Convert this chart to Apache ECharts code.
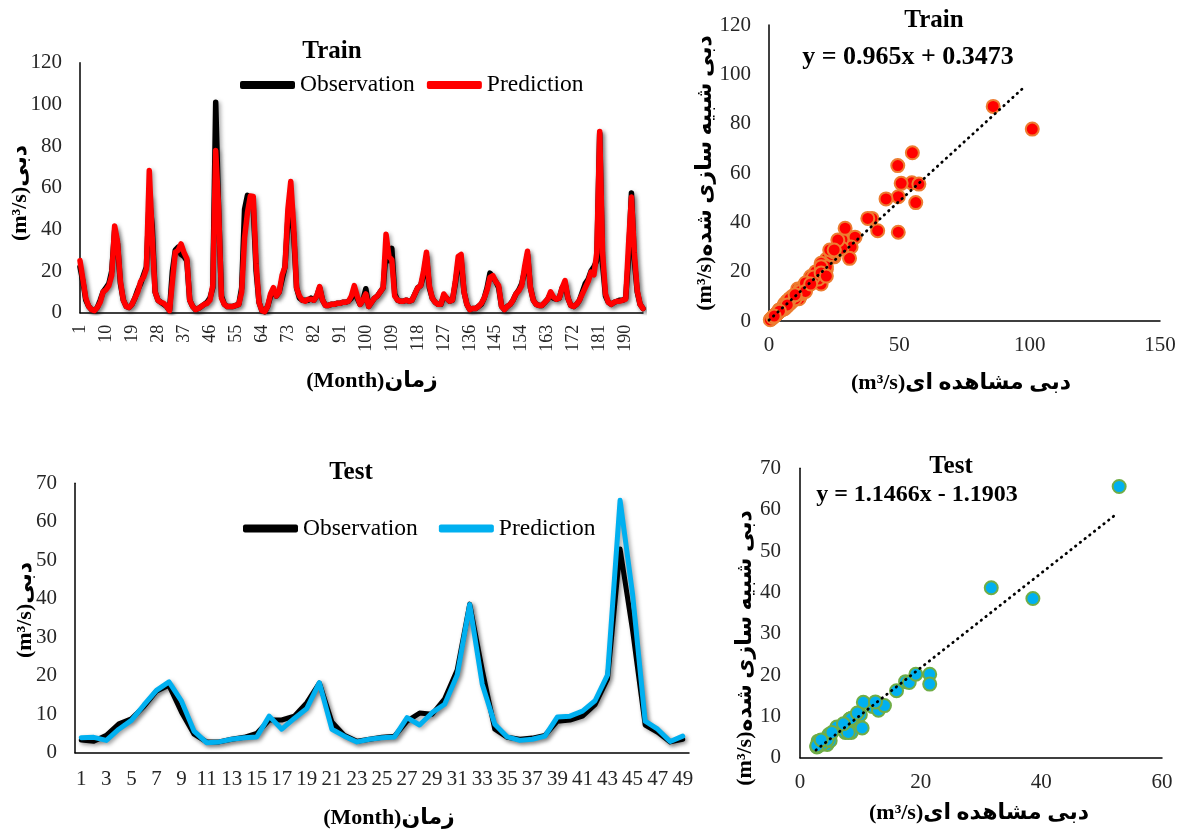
<!DOCTYPE html>
<html>
<head>
<meta charset="utf-8">
<script src="https://cdn.jsdelivr.net/npm/echarts@6/dist/echarts.min.js"></script>
<style>
html,body{margin:0;padding:0;background:#fff;}
#chart{width:1185px;height:830px;}
</style>
</head>
<body>
<div id="chart"></div>
<script>
// ---------- DATA ----------
const trainObs = [22,15,6,3,1.5,1,2.5,6,10,12,14,20,39.5,33,14,6,3,2.5,4,7,11,14,18,22,55,41.7,10,6,5,4,3,1,20,30,31.5,28,27,25,6,3,1.5,2,3,4,5,7,12,101,49.6,8,4,3,3,3,3.5,4,12,49.6,56.3,54.8,50.7,20,5,1,0.5,3,8,11,8,10,16,22,44.9,49.4,37.9,12,7,6,6,6,7,6,8,12,6,3.5,3.5,4,4,4.5,4.5,5,5,5.5,7,11,7,4,6,11.5,3,5,7,8,10,12,29.2,25,30.9,9,6,5.5,5.5,6,5.5,6,9,12,13,18,27,12,7,5,4,4,8,7,5.5,6,14,24,25,10,4,1.5,2,2,3,4,7,12,19,17,15,12,3,1.5,3,4,6,9,11,14,20,28,12,6,4,3.5,3.5,5,6.5,9,7,6.5,7,12,14,7,3.5,3,4,6,10,14,16,20,22,25,86,23.3,8,5,4,5,5.5,6,6,7,26.4,57.5,25,10,4,2];
const trainPred = [25,16,7,3,1.5,1,2.5,5,10,11,13,18,41.6,34,15,6,3,2.5,4,7,10,15,17,21,68.2,36.6,10,6,5,4.5,3,1,15,29,30,33,29,26,6,3,1.5,2,3,4,4.5,6,13,77.8,50.4,7,4,3,3,3,3.5,4,10,36,48,56,55.8,23.4,5,1,0.5,3,9,12,8,10,18,22,49.5,63,41.6,12,8,6,5.5,6.5,6.5,6,8,12.5,6,3.5,3.5,4,4,4.5,4.5,5,5,5.5,8,13,8,4,6,9,3,5,7,8,10,12,37.6,27,25.4,8,6,5.5,5.5,6,5.5,6,9,12,13,20,29,13,7,5,4,4,9,7,5.5,6,15,27,28,10,4,1.5,2,2,3,4.5,7,11,17,17.8,15,13,3,1.5,3,4,6,9,10.5,13,22,29.5,12,6,4,3.5,3.5,5,6.5,10,7.5,6.5,7,12,15.4,7,3.5,3,4,6,9,12,15,19.5,18.2,28.8,87,28.8,9,5,4,5,5.5,5.5,6,6.5,32.8,55.5,28.8,10.6,4,2];
const testObs = [3.3,3.0,4.5,7.5,8.8,12.0,16.0,17.5,10.5,4.8,2.8,2.8,3.5,4.0,5.0,8.5,8.5,9.5,13.0,18.1,8.0,4.5,3.0,3.5,4.0,4.3,8.2,10.3,10.0,14.0,21.5,38.6,21.5,6.1,4.0,3.5,3.8,4.5,8.2,8.5,9.5,12.5,19.2,52.9,31.7,7.2,5.3,2.8,3.5];
const testPred = [3.9,4.0,3.2,6.1,8.4,12.4,16.2,18.4,13.4,5.6,2.6,2.8,3.5,3.9,4.1,9.5,6.1,8.9,11.5,18.2,6.1,4.3,2.8,3.5,3.9,4.1,9.1,7.2,10.4,12.6,20.2,38.5,17.8,7.4,4.1,3.2,3.5,4.3,9.3,9.5,10.8,13.5,20.2,65.6,41.1,8.2,6.1,2.9,4.3];
const trainMonths = trainObs.map((_, i) => String(i + 1));
const testMonths = testObs.map((_, i) => String(i + 1));
const seriesNames = ['Observation', 'Prediction'];
const trainFit = {slope: 0.965, intercept: 0.3473, xStart: 0, xEnd: 98};
const testFit = {slope: 1.1466, intercept: -1.1903, xStart: 2.65, xEnd: 52.5};
const trainEq = 'y = 0.965x + 0.3473';
const testEq = 'y = 1.1466x - 1.1903';
const yNameLine = '(m³/s)دبی';
const xNameLine = '(Month)زمان';
const yNameScatter = '(m³/s)دبی شبیه سازی شده';
const xNameScatter = '(m³/s)دبی مشاهده ای';

// ---------- STYLE ----------
const FONT = "'Liberation Serif','Times New Roman','DejaVu Sans',serif";
const LBL = '#262626';
const shadow = {shadowColor: 'rgba(0,0,0,0.35)', shadowBlur: 4, shadowOffsetX: 2, shadowOffsetY: 2};

function valAxis(gridIndex, min, max, interval, margin) {
  return {
    type: 'value', gridIndex, min, max, interval,
    axisLine: {show: true, onZero: false, lineStyle: {color: '#000', width: 1.5}},
    axisTick: {show: false}, splitLine: {show: false},
    axisLabel: {color: LBL, fontFamily: FONT, fontSize: 21, margin: margin}
  };
}
function catAxis(gridIndex, data, gap, labelOpt) {
  return {
    type: 'category', gridIndex, data, boundaryGap: gap,
    axisLine: {show: true, lineStyle: {color: '#000', width: 1.5}},
    axisTick: {show: false}, splitLine: {show: false},
    axisLabel: Object.assign({color: LBL, fontFamily: FONT}, labelOpt)
  };
}
function lineSeries(name, xi, data, color, width) {
  return {
    name, type: 'line', xAxisIndex: xi, yAxisIndex: xi, data,
    symbol: 'none', showSymbol: false, silent: true,
    itemStyle: {color}, color,
    lineStyle: Object.assign({color, width: width, join: 'round', cap: 'round'}, shadow)
  };
}
function trend(xi, fit) {
  return {
    type: 'line', xAxisIndex: xi, yAxisIndex: xi, symbol: 'none', silent: true, z: 5,
    data: [[fit.xStart, fit.slope * fit.xStart + fit.intercept], [fit.xEnd, fit.slope * fit.xEnd + fit.intercept]],
    lineStyle: {color: '#000', width: 2.8, type: [0.5, 5.5], cap: 'round'}
  };
}
function txt(text, x, y, size, opts) {
  return Object.assign({
    type: 'text', x, y, silent: true,
    style: {text, fill: '#000', font: 'bold ' + size + 'px ' + FONT,
      textAlign: 'center', textVerticalAlign: 'middle', align: 'center', verticalAlign: 'middle'}
  }, opts || {});
}
function legend(left, top, gap, colors) {
  return {
    left, top, padding: 0, itemGap: gap, itemWidth: 55, itemHeight: 8, icon: 'roundRect',
    selectedMode: false,
    textStyle: {fontFamily: FONT, fontSize: 23.5, color: '#000'},
    data: seriesNames.map((n, i) => ({name: n, itemStyle: {color: colors[i]}}))
  };
}

const chart = echarts.init(document.getElementById('chart'), null, {renderer: 'canvas'});
chart.setOption({
  animation: false,
  backgroundColor: '#fff',
  grid: [
    {left: 80, top: 62.7, width: 563, height: 250},
    {left: 769, top: 25, width: 391, height: 296},
    {left: 75, top: 483.3, width: 614, height: 269.4},
    {left: 800, top: 468.3, width: 362, height: 289.4}
  ],
  legend: [
    legend(240, 73, 12, ['#000000', '#FF0000']),
    legend(243, 516.5, 21, ['#000000', '#00B0F0'])
  ],
  xAxis: [
    catAxis(0, trainMonths, false, {rotate: 90, interval: 8, fontSize: 18, margin: 12}),
    valAxis(1, 0, 150, 50, 14),
    catAxis(2, testMonths, true, {interval: 1, fontSize: 21, margin: 16}),
    valAxis(3, 0, 60, 20, 14)
  ],
  yAxis: [
    valAxis(0, 0, 120, 20, 18),
    valAxis(1, 0, 120, 20, 18),
    valAxis(2, 0, 70, 10, 18),
    valAxis(3, 0, 70, 10, 19)
  ],
  series: [
    lineSeries(seriesNames[0], 0, trainObs, '#000000', 5.5),
    lineSeries(seriesNames[1], 0, trainPred, '#FF0000', 5.5),
    {
      type: 'scatter', xAxisIndex: 1, yAxisIndex: 1, silent: true, symbolSize: 13,
      data: trainObs.map((v, i) => [v, trainPred[i]]),
      itemStyle: {color: '#FF0000', borderColor: '#ED7D31', borderWidth: 2, opacity: 1}
    },
    trend(1, trainFit),
    lineSeries(seriesNames[0], 2, testObs, '#000000', 5),
    lineSeries(seriesNames[1], 2, testPred, '#00B0F0', 5),
    {
      type: 'scatter', xAxisIndex: 3, yAxisIndex: 3, silent: true, symbolSize: 13,
      data: testObs.map((v, i) => [v, testPred[i]]),
      itemStyle: {color: '#00B0F0', borderColor: '#70AD47', borderWidth: 2, opacity: 1}
    },
    trend(3, testFit)
  ],
  graphic: [
    txt('Train', 332, 52, 25),
    txt('Train', 934, 21, 25),
    txt('Test', 351, 473, 25),
    txt('Test', 951, 467, 25),
    txt(trainEq, 908, 57, 26),
    txt(testEq, 917, 495, 24),
    txt(yNameLine, 20, 193, 22, {rotation: Math.PI / 2}),
    txt(xNameLine, 372, 381, 22),
    txt(yNameLine, 25, 610, 22, {rotation: Math.PI / 2}),
    txt(xNameLine, 389, 818, 22),
    txt(yNameScatter, 705, 173, 22, {rotation: Math.PI / 2}),
    txt(xNameScatter, 961, 383, 22),
    txt(yNameScatter, 745, 648, 22, {rotation: Math.PI / 2}),
    txt(xNameScatter, 979, 813, 22)
  ]
});
</script>
</body>
</html>
